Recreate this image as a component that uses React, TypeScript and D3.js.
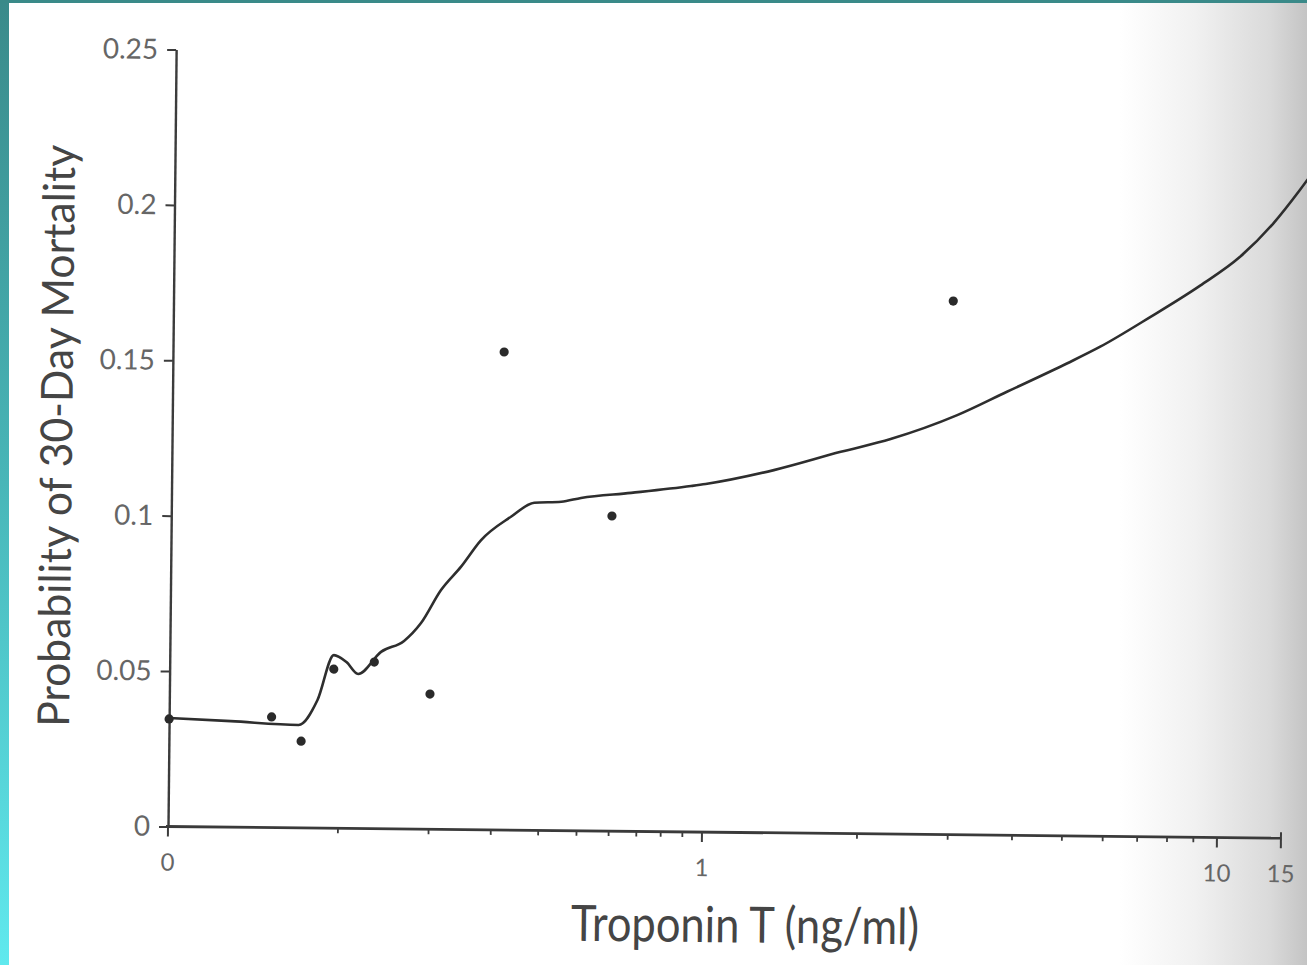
import React, { useEffect, useRef } from "react"
import * as d3 from "d3"

// fitted curve: troponin T (ng/ml) vs probability of 30-day mortality
const curveTnt = [0, 0.027, 0.068, 0.082, 0.095, 0.106, 0.117, 0.14, 0.166, 0.187, 0.214, 0.244, 0.277, 0.333, 0.383, 0.449, 0.503, 0.667, 0.925, 1, 1.356, 1.827, 2.282, 3.07, 3.83, 5.0, 5.8, 7.24, 9.04, 11.14, 13.73, 16.2, 17.2]
const curveProb = [0.0349, 0.0341, 0.0331, 0.0412, 0.0557, 0.0535, 0.0497, 0.0569, 0.0605, 0.0663, 0.077, 0.0846, 0.0932, 0.1008, 0.1054, 0.1058, 0.1071, 0.1089, 0.1113, 0.112, 0.1167, 0.1228, 0.1271, 0.135, 0.1427, 0.152, 0.1575, 0.1672, 0.1775, 0.1869, 0.1978, 0.2086, 0.2128]

// observed group rates
const obsTnt = [0, 0.05, 0.07, 0.095, 0.133, 0.2, 0.316, 0.6, 3.0]
const obsProb = [0.0346, 0.0356, 0.0279, 0.0512, 0.0536, 0.0435, 0.1538, 0.1014, 0.1717]

const yTicks = [0, 0.05, 0.1, 0.15, 0.2, 0.25]
const xMajor = [0, 1, 10, 15]
const xMinor = [0.1, 0.2, 0.3, 0.4, 0.5, 0.6, 0.7, 0.8, 0.9, 2, 3, 4, 5, 6, 7, 8, 9]

const FONT = "Lato, 'DejaVu Sans', sans-serif"

export default function App() {
  const ref = useRef<SVGSVGElement>(null)

  useEffect(() => {
    const svg = d3.select(ref.current)
    svg.selectAll("*").remove()

    const W = 1307
    const H = 965

    const defs = svg.append("defs")
    const shade = defs.append("linearGradient").attr("id", "shade")
      .attr("x1", 0).attr("x2", 1).attr("y1", 0).attr("y2", 0)
    shade.append("stop").attr("offset", 0).attr("stop-color", "#ffffff")
    shade.append("stop").attr("offset", 0.4).attr("stop-color", "#f1f1f1")
    shade.append("stop").attr("offset", 0.8).attr("stop-color", "#dadada")
    shade.append("stop").attr("offset", 1).attr("stop-color", "#c4c4c4")
    const band = defs.append("linearGradient").attr("id", "band")
      .attr("x1", 0).attr("x2", 0).attr("y1", 0).attr("y2", 1)
    band.append("stop").attr("offset", 0).attr("stop-color", "#3a8a8a")
    band.append("stop").attr("offset", 0.5).attr("stop-color", "#48b6b8")
    band.append("stop").attr("offset", 1).attr("stop-color", "#60e9ee")

    svg.append("rect").attr("width", W).attr("height", H).attr("fill", "#ffffff")
    svg.append("rect").attr("x", 1120).attr("width", W - 1120).attr("height", H).attr("fill", "url(#shade)")
    svg.append("rect").attr("width", 9).attr("height", H).attr("fill", "url(#band)")
    svg.append("rect").attr("width", W).attr("height", 3).attr("fill", "#3a8a89")

    // linear-ish low range below 1, log decades above
    const xLow = d3.scaleSymlog().constant(0.075).domain([0, 1]).range([0, 534])
    const xHigh = d3.scaleLog().domain([1, 10, 15]).range([534, 1049, 1113])
    const x = (v: number) => (v <= 1 ? xLow(v) : xHigh(v))
    const y = d3.scaleLinear().domain([0, 0.25]).range([0, -777])

    // the scanned page is slightly rotated
    const g = svg.append("g").attr("transform", "translate(168,826.5) rotate(0.6)")

    const yAxis = g.append("g")
      .call(d3.axisLeft(y).tickValues(yTicks).tickSize(9).tickSizeOuter(0).tickPadding(9)
        .tickFormat(d => String(d)))
    yAxis.select(".domain").attr("stroke", "#3c3c3c").attr("stroke-width", 2.4)
    yAxis.selectAll(".tick line").attr("stroke", "#3c3c3c").attr("stroke-width", 2)
    yAxis.selectAll(".tick text")
      .attr("font-family", FONT).attr("font-size", 28).attr("fill", "#666")

    g.append("line").attr("x1", -2).attr("x2", x(15)).attr("y1", 0).attr("y2", 0)
      .attr("stroke", "#3a3a3a").attr("stroke-width", 2.8)
    g.selectAll(".minor").data(xMinor).enter().append("line")
      .attr("x1", d => x(d)).attr("x2", d => x(d)).attr("y1", 0).attr("y2", 5)
      .attr("stroke", "#3c3c3c").attr("stroke-width", 1.8)
    g.selectAll(".major").data(xMajor).enter().append("line")
      .attr("x1", d => x(d)).attr("x2", d => x(d)).attr("y1", d => d === 15 ? -6 : 0).attr("y2", 10)
      .attr("stroke", "#3c3c3c").attr("stroke-width", 2)
    g.selectAll(".xlab").data(xMajor).enter().append("text")
      .attr("x", d => x(d)).attr("y", 44)
      .attr("text-anchor", "middle")
      .attr("font-family", FONT).attr("font-size", 24).attr("fill", "#666")
      .text(d => String(d))

    const line = d3.line<number>()
      .x(i => x(curveTnt[i]))
      .y(i => y(curveProb[i]))
      .curve(d3.curveMonotoneX)
    g.append("path").attr("d", line(d3.range(curveTnt.length)))
      .attr("fill", "none").attr("stroke", "#2e2e2e").attr("stroke-width", 2.6)
      .attr("stroke-linejoin", "round")

    g.selectAll(".dot").data(d3.range(obsTnt.length)).enter().append("circle")
      .attr("cx", i => x(obsTnt[i])).attr("cy", i => y(obsProb[i]))
      .attr("r", 4.6).attr("fill", "#2a2a2a")

    g.append("text")
      .attr("x", 578).attr("y", 110)
      .attr("text-anchor", "middle")
      .attr("font-family", FONT).attr("font-size", 50).attr("fill", "#454545")
      .attr("textLength", 348).attr("lengthAdjust", "spacingAndGlyphs")
      .text("Troponin T (ng/ml)")

    g.append("text")
      .attr("transform", "translate(-100,-389.5) rotate(-90)")
      .attr("text-anchor", "middle")
      .attr("font-family", FONT).attr("font-size", 44).attr("fill", "#454545")
      .attr("textLength", 582).attr("lengthAdjust", "spacingAndGlyphs")
      .text("Probability of 30-Day Mortality")
  }, [])

  return (
    <svg ref={ref} width={1307} height={965}
      style={{ position: "absolute", left: 0, top: 0, display: "block" }} />
  )
}
